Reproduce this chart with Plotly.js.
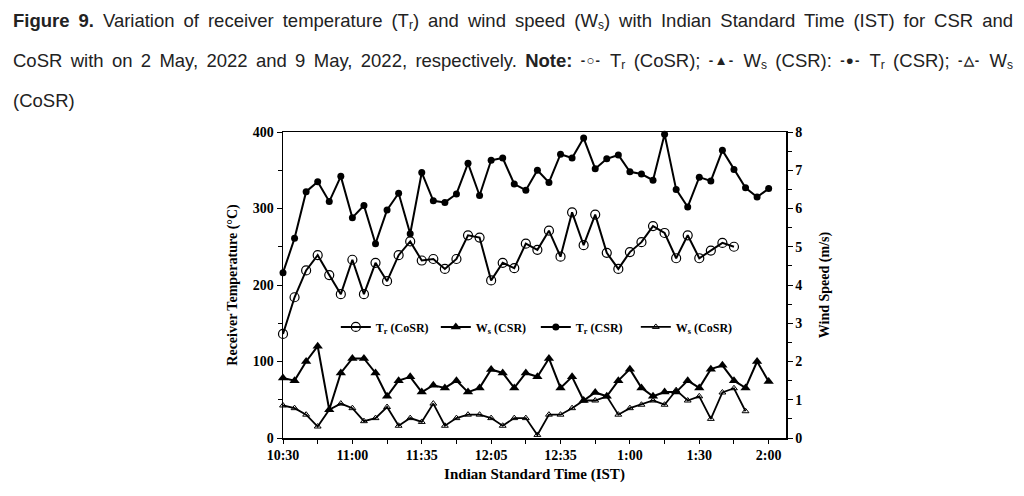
<!DOCTYPE html>
<html>
<head>
<meta charset="utf-8">
<script src="https://cdn.plot.ly/plotly-3.0.1.min.js"></script>
<style>
  html, body { margin: 0; padding: 0; background: #fff; }
  #wrap { position: relative; width: 1024px; height: 496px; overflow: hidden; }
  #chart { position: absolute; left: 0; top: 0; width: 1024px; height: 496px; }
  #cap { position: absolute; left: 13px; top: 1px; width: 1000px; z-index: 5;
         font-family: "Liberation Sans", Arial, sans-serif; font-size: 17px; color: #222; pointer-events: none; }
  #cap .ln { height: 40px; line-height: 40px; white-space: nowrap; }
  #cap .j { text-align: justify; text-align-last: justify; }
  #cap b { font-weight: bold; }
  #cap sub { font-size: 0.65em; vertical-align: -0.2em; line-height: 0; }
  #cap .g { font-size: 0.72em; font-weight: bold; letter-spacing: -0.15em; vertical-align: 0.15em; margin-right: 0.3em; }
  #probe { position: absolute; visibility: hidden; white-space: nowrap; font-family: "Liberation Sans", Arial, sans-serif; font-size: 17px; }
</style>
</head>
<body>
<div id="wrap">
  <div id="chart"></div>
  <div id="cap">
    <div class="ln j" id="l1"><b>Figure 9.</b> Variation of receiver temperature (T<sub>r</sub>) and wind speed (W<sub>s</sub>) with Indian Standard Time (IST) for CSR and</div>
    <div class="ln j">CoSR with on 2 May, 2022 and 9 May, 2022, respectively. <b>Note:</b> <span class="g">-○-</span> T<sub>r</sub> (CoSR); <span class="g">-▲-</span> W<sub>s</sub> (CSR): <span class="g">-●-</span> T<sub>r</sub> (CSR); <span class="g">-△-</span> W<sub>s</sub></div>
    <div class="ln">(CoSR)</div>
  </div>
  <span id="probe"></span>
</div>
<script>
// Tick labels (every 6th 5-minute step) and index positions
const tickIndex = [0, 6, 12, 18, 24, 30, 36, 42];
const tickLabels = ["10:30", "11:00", "11:35", "12:05", "12:35", "1:00", "1:30", "2:00"];

// Receiver temperature (°C), CoSR (index 0..39)
const trCoSR = [136,184,219,239,213,188,233,188,229,205,239,257,232,234,221,234,265,262,206,229,
                222,254,246,271,237,295,252,292,242,221,243,256,277,268,235,265,235,245,255,250];
// Wind speed (m/s), CSR (index 0..42)
const wsCSR = [1.57,1.5,2.0,2.4,0.74,1.7,2.08,2.08,1.7,1.09,1.5,1.6,1.2,1.38,1.31,1.5,1.2,1.31,1.79,1.7,
               1.31,1.7,1.6,2.08,1.31,1.6,0.98,1.19,1.09,1.5,1.8,1.31,1.09,1.2,1.2,1.5,1.31,1.8,1.9,1.5,
               1.31,2.0,1.48];
// Receiver temperature (°C), CSR (index 0..42)
const trCSR = [216,261,322,335,309,342,288,304,254,298,320,267,347,310,308,319,359,317,363,366,
               332,324,350,334,371,366,392,352,365,370,348,345,337,397,325,302,341,336,376,351,
               327,315,326];
// Wind speed (m/s), CoSR (index 0..40)
const wsCoSR = [0.85,0.78,0.61,0.3,0.74,0.9,0.78,0.44,0.52,0.81,0.32,0.52,0.42,0.9,0.32,0.52,0.61,0.61,0.52,0.32,
                0.52,0.52,0.08,0.61,0.61,0.78,0.98,0.98,1.09,0.61,0.78,0.87,0.98,0.87,1.25,0.98,1.09,0.5,1.19,1.3,
                0.7];

// Fit caption font so that the first line fills its 1000px width naturally
(function fitCaption() {
  const probe = document.getElementById("probe");
  probe.innerHTML = document.getElementById("l1").innerHTML;
  const w = probe.getBoundingClientRect().width;
  if (w > 0) {
    const fs = Math.min(18.5, 17 * 996 / w);
    document.getElementById("cap").style.fontSize = fs.toFixed(2) + "px";
  }
})();

const idx = n => Array.from({length: n}, (_, i) => i);
const serif = "Liberation Serif, Times New Roman, serif";
const black = "#000";

const traces = [
  { x: idx(trCoSR.length), y: trCoSR, name: "<b>T<sub>r</sub> (CoSR)</b>", mode: "lines+markers",
    yaxis: "y", cliponaxis: false,
    line: { color: black, width: 2 },
    marker: { symbol: "circle-open", size: 9, color: black, line: { width: 1.2, color: black } } },
  { x: idx(wsCSR.length), y: wsCSR, name: "<b>W<sub>s</sub> (CSR)</b>", mode: "lines+markers",
    yaxis: "y2", cliponaxis: false,
    line: { color: black, width: 2 },
    marker: { symbol: "triangle-up", size: 9, color: black } },
  { x: idx(trCSR.length), y: trCSR, name: "<b>T<sub>r</sub> (CSR)</b>", mode: "lines+markers",
    yaxis: "y", cliponaxis: false,
    line: { color: black, width: 2 },
    marker: { symbol: "circle", size: 7, color: black } },
  { x: idx(wsCoSR.length), y: wsCoSR, name: "<b>W<sub>s</sub> (CoSR)</b>", mode: "lines+markers",
    yaxis: "y2", cliponaxis: false,
    line: { color: black, width: 1.8 },
    marker: { symbol: "triangle-up-open", size: 6, color: black, line: { width: 1, color: black } } }
];

const tickFont = { family: serif, size: 14, color: black, weight: "bold" };

const layout = {
  width: 1024, height: 496,
  margin: { l: 283, r: 238, t: 132, b: 58 },
  paper_bgcolor: "rgba(0,0,0,0)", plot_bgcolor: "#fff",
  showlegend: true,
  legend: { orientation: "h", x: 0.105, y: 0.363, xanchor: "left", yanchor: "middle",
            font: { family: serif, size: 12, color: black }, bgcolor: "rgba(0,0,0,0)",
            entrywidth: 55, entrywidthmode: "pixels", itemclick: false },
  xaxis: {
    range: [0, 43.5], showgrid: false, zeroline: false,
    showline: true, linecolor: black, linewidth: 1.5, mirror: true,
    tickmode: "array", tickvals: tickIndex, ticktext: tickLabels,
    ticks: "outside", ticklen: 4, tickwidth: 1, tickcolor: black,
    minor: { dtick: 3, tick0: 0, ticks: "outside", ticklen: 4, tickwidth: 1, tickcolor: black },
    tickfont: tickFont,
    title: { text: "Indian Standard Time (IST)", font: { family: serif, size: 15, color: black, weight: "bold" }, standoff: 6 }
  },
  yaxis: {
    range: [0, 400], showgrid: false, zeroline: false,
    showline: true, linecolor: black, linewidth: 1.5,
    tickvals: [0, 100, 200, 300, 400], ticks: "outside", ticklen: 5, tickwidth: 1, tickcolor: black,
    minor: { dtick: 50, tick0: 0, ticks: "outside", ticklen: 4, tickwidth: 1, tickcolor: black },
    tickfont: tickFont,
    title: { text: "Receiver Temperature (°C)", font: { family: serif, size: 14, color: black, weight: "bold" }, standoff: 12 }
  },
  yaxis2: {
    range: [0, 8], overlaying: "y", side: "right", showgrid: false, zeroline: false,
    showline: true, linecolor: black, linewidth: 1.5,
    tickvals: [0, 1, 2, 3, 4, 5, 6, 7, 8], ticks: "outside", ticklen: 5, tickwidth: 1, tickcolor: black,
    minor: { dtick: 0.5, tick0: 0, ticks: "outside", ticklen: 4, tickwidth: 1, tickcolor: black },
    tickfont: tickFont,
    title: { text: "Wind Speed (m/s)", font: { family: serif, size: 14, color: black, weight: "bold" }, standoff: 18 }
  }
};

Plotly.newPlot("chart", traces, layout, { displayModeBar: false, staticPlot: true });
</script>
</body>
</html>
